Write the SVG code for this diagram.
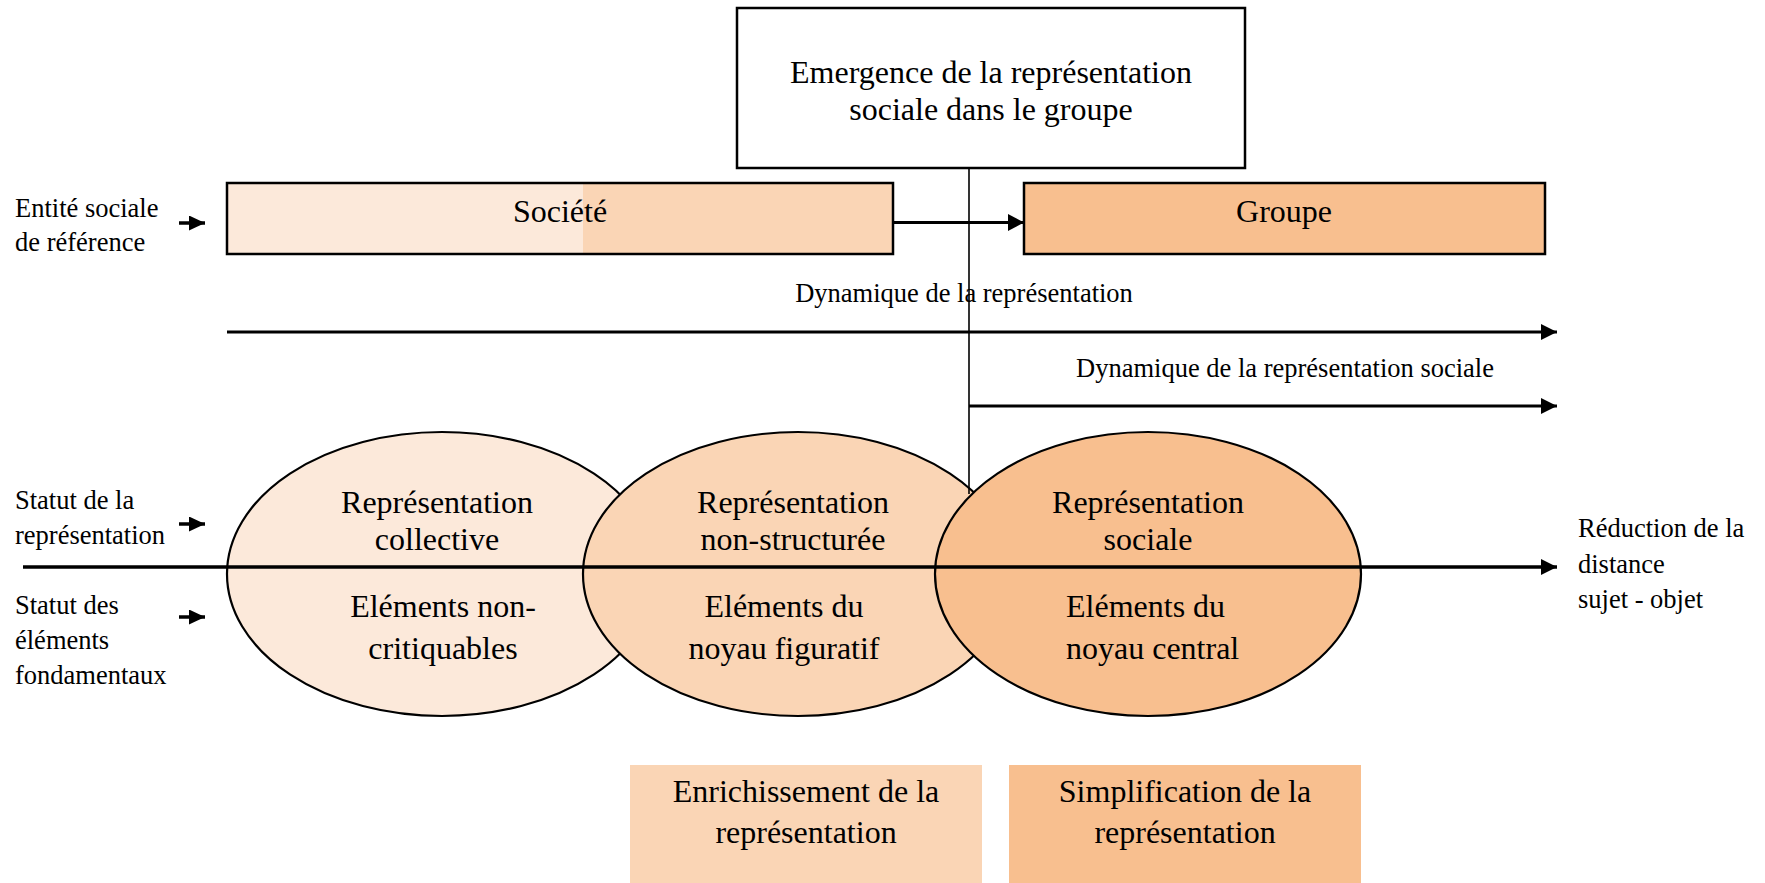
<svg xmlns="http://www.w3.org/2000/svg" width="1765" height="883" viewBox="0 0 1765 883">
<style>
text{font-family:"Liberation Serif","Times New Roman",serif;fill:#000}
.big{font-size:32px;text-anchor:middle}
.sm{font-size:26.5px}
.smc{font-size:26.5px;text-anchor:middle}
.box{stroke:#000;stroke-width:2.5}
.ell{stroke:#000;stroke-width:2.2}
.ln{stroke:#000;fill:none}
</style>
<defs>
<linearGradient id="socFill" x1="227" y1="0" x2="893" y2="0" gradientUnits="userSpaceOnUse">
<stop offset="0.5345" stop-color="#FCE9DA"/>
<stop offset="0.5345" stop-color="#FAD5B5"/>
</linearGradient>
<marker id="ahBig" markerUnits="userSpaceOnUse" markerWidth="17" markerHeight="17" refX="16" refY="8" orient="auto">
<path d="M0,0 L16,8 L0,16 Z" fill="#000"/>
</marker>
<marker id="ahMid" markerUnits="userSpaceOnUse" markerWidth="17" markerHeight="18" refX="16" refY="8.5" orient="auto">
<path d="M0,0 L16,8.5 L0,17 Z" fill="#000"/>
</marker>
<marker id="ahSm" markerUnits="userSpaceOnUse" markerWidth="17" markerHeight="16" refX="16" refY="7.5" orient="auto">
<path d="M0,0 L16,7.5 L0,15 Z" fill="#000"/>
</marker>
</defs>

<g id="labels-left">
<text class="sm" x="15" y="217">Entité sociale</text>
<text class="sm" x="15" y="251">de référence</text>
<text class="sm" x="15" y="509">Statut de la</text>
<text class="sm" x="15" y="544">représentation</text>
<text class="sm" x="15" y="614">Statut des</text>
<text class="sm" x="15" y="649">éléments</text>
<text class="sm" x="15" y="684">fondamentaux</text>
</g>

<g id="node-emergence">
<rect class="box" x="737" y="8" width="508" height="160" fill="#fff"/>
<text class="big" x="991" y="83">Emergence de la représentation</text>
<text class="big" x="991" y="120">sociale dans le groupe</text>
</g>

<g id="node-societe">
<rect class="box" x="227" y="183" width="666" height="71" fill="url(#socFill)"/>
<text class="big" x="560" y="222">Société</text>
</g>

<g id="node-groupe">
<rect class="box" x="1024" y="183" width="521" height="71" fill="#F8BF8F"/>
<text class="big" x="1284" y="222">Groupe</text>
</g>

<g id="label-dyn">
<text class="smc" x="964" y="302">Dynamique de la représentation</text>
<text class="smc" x="1285" y="377">Dynamique de la représentation sociale</text>
</g>

<g id="node-collective">
<ellipse class="ell" cx="442" cy="574" rx="215" ry="142" fill="#FCE9DA"/>
</g>
<g id="node-nonstructuree">
<ellipse class="ell" cx="798" cy="574" rx="215" ry="142" fill="#FAD5B5"/>
</g>
<g id="node-sociale">
<line class="ln" x1="969" y1="168" x2="969" y2="494" stroke-width="1.6"/>
<ellipse class="ell" cx="1148" cy="574" rx="213" ry="142" fill="#F8BF8F"/>
</g>

<g id="ellipse-texts">
<text class="big" x="437" y="513">Représentation</text>
<text class="big" x="437" y="550">collective</text>
<text class="big" x="443" y="617">Eléments non-</text>
<text class="big" x="443" y="659">critiquables</text>
<text class="big" x="793" y="513">Représentation</text>
<text class="big" x="793" y="550">non-structurée</text>
<text class="big" x="784" y="617">Eléments du</text>
<text class="big" x="784" y="659">noyau figuratif</text>
<text class="big" x="1148" y="513">Représentation</text>
<text class="big" x="1148" y="550">sociale</text>
<text font-size="32" x="1066" y="617">Eléments du</text>
<text font-size="32" x="1066" y="659">noyau central</text>
</g>

<g id="node-enrichissement">
<rect x="630" y="765" width="352" height="118" fill="#FAD5B5"/>
<text class="big" x="806" y="802">Enrichissement de la</text>
<text class="big" x="806" y="843">représentation</text>
</g>
<g id="node-simplification">
<rect x="1009" y="765" width="352" height="118" fill="#F8BF8F"/>
<text class="big" x="1185" y="802">Simplification de la</text>
<text class="big" x="1185" y="843">représentation</text>
</g>

<g id="label-right">
<text class="sm" x="1578" y="537">Réduction de la</text>
<text class="sm" x="1578" y="573">distance</text>
<text class="sm" x="1578" y="608">sujet - objet</text>
</g>

<g id="connectors">
<line class="ln" x1="893" y1="222.5" x2="1024" y2="222.5" stroke-width="3" marker-end="url(#ahMid)"/>
<line class="ln" x1="227" y1="332" x2="1557" y2="332" stroke-width="3" marker-end="url(#ahBig)"/>
<line class="ln" x1="969" y1="406" x2="1557" y2="406" stroke-width="3" marker-end="url(#ahBig)"/>
<line class="ln" x1="23" y1="567" x2="1557" y2="567" stroke-width="3.5" marker-end="url(#ahBig)"/>
<line class="ln" x1="179" y1="223" x2="205" y2="223" stroke-width="3.5" marker-end="url(#ahSm)"/>
<line class="ln" x1="179" y1="524" x2="205" y2="524" stroke-width="3.5" marker-end="url(#ahSm)"/>
<line class="ln" x1="179" y1="617" x2="205" y2="617" stroke-width="3.5" marker-end="url(#ahSm)"/>
</g>
</svg>
